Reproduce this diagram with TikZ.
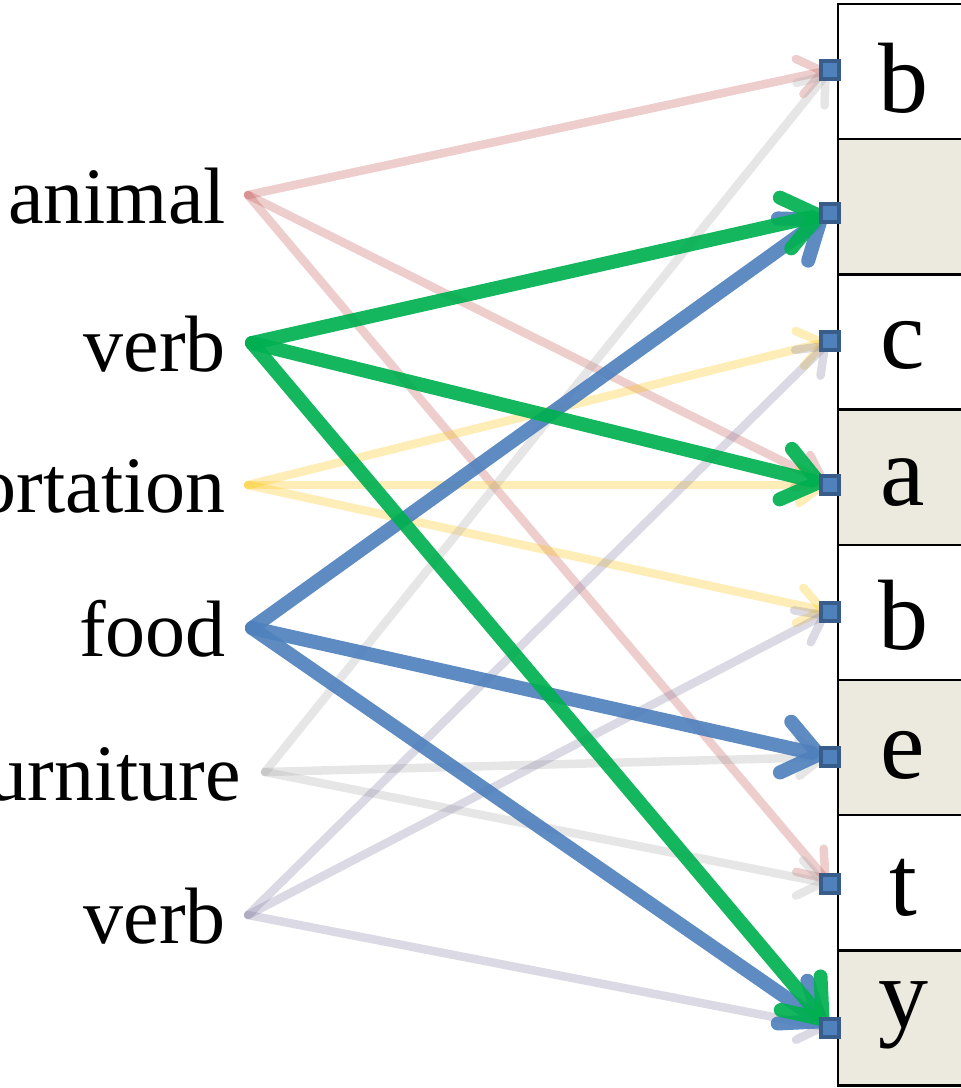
\documentclass[tikz,border=0pt]{standalone}
\usepackage{fontspec}
\setmainfont{Liberation Serif}
\usetikzlibrary{arrows.meta}
\definecolor{cellbeige}{HTML}{ECEADF}
\definecolor{portblue}{HTML}{4F81BD}
\definecolor{portedge}{HTML}{385D8A}
\definecolor{hotgreen}{HTML}{00B050}
\definecolor{hotblue}{HTML}{4F81BD}
\definecolor{softred}{HTML}{C0504D}
\definecolor{softyellow}{HTML}{FFC000}
\definecolor{softgray}{HTML}{A6A6A6}
\definecolor{softlilac}{HTML}{7E7A9E}
\tikzset{
  word/.style={anchor=base east, inner sep=0pt, font=\fontsize{80}{90}\selectfont},
  cell/.style={draw=black, line width=2.5pt},
  letter/.style={font=\fontsize{100}{110}\selectfont, inner sep=0pt},
  port/.style={draw=portedge, fill=portblue, line width=3.5pt, minimum size=18pt, inner sep=0pt},
  faint/.style={line width=8.5pt, draw opacity=0.28, line cap=round,
    -{Straight Barb[length=24pt,width=36pt,line cap=round]}},
  strong/.style={line width=14pt, line cap=round, draw opacity=0.92,
    -{Straight Barb[length=34pt,width=52pt,line cap=round]}},
}
\begin{document}
\begin{tikzpicture}[x=1pt,y=-1pt]
\useasboundingbox (0,0) rectangle (961,1088);
\clip (0,0) rectangle (961,1088);

% column of cells on the right
\foreach \i/\fillc in {0/white,1/cellbeige,2/white,3/cellbeige,4/white,5/cellbeige,6/white,7/cellbeige}{
  \path[cell, fill=\fillc] (838,{4+135.2*\i}) rectangle (990,{4+135.2*(\i+1)});
}
\node[letter] (lb1) at (903,78) {b};
\node[letter] (lc) at (903,345) {c};
\node[letter] (la) at (903,483) {a};
\node[letter] (lb2) at (903,615) {b};
\node[letter] (le) at (903,755) {e};
\node[letter] (lt) at (903,888) {t};
\node[letter] (ly) at (903,1015) {y};

% word labels
\node[word] (wanimal) at (226,223) {animal};
\node[word] (wverb) at (226,371) {verb};
\node[word] (wtrans) at (226,512) {transportation};
\node[word] (wfood) at (226,656) {food};
\node[word] (wfurn) at (241,800) {furniture};
\node[word] (wverbb) at (226,943) {verb};

% edge start points
\coordinate (sanimal) at (248,195);
\coordinate (sverb) at (252,343);
\coordinate (strans) at (248,485);
\coordinate (sfood) at (252,628);
\coordinate (sfurn) at (265,772);
\coordinate (sverbb) at (248,915);

% ports on the cell column
\path (830,70) coordinate (p1) (830,213) coordinate (p2) (830,341) coordinate (p3)
      (830,485) coordinate (p4) (830,612) coordinate (p5) (830,757) coordinate (p6)
      (830,884) coordinate (p7) (830,1028) coordinate (p8);

% faint links
\draw[faint, draw=softred] (sanimal) -- (p1);
\draw[faint, draw=softred] (sanimal) -- (p4);
\draw[faint, draw=softred] (sanimal) -- (p7);
\draw[faint, draw=softyellow] (strans) -- (p3);
\draw[faint, draw=softyellow] (strans) -- (p4);
\draw[faint, draw=softyellow] (strans) -- (p5);
\draw[faint, draw=softgray] (sfurn) -- (p1);
\draw[faint, draw=softgray] (sfurn) -- (p6);
\draw[faint, draw=softgray] (sfurn) -- (p7);
\draw[faint, draw=softlilac] (sverbb) -- (p3);
\draw[faint, draw=softlilac] (sverbb) -- (p5);
\draw[faint, draw=softlilac] (sverbb) -- (p8);

% highlighted links
\draw[strong, draw=hotblue] (sfood) -- (p2);
\draw[strong, draw=hotblue] (sfood) -- (p6);
\draw[strong, draw=hotblue] (sfood) -- (p8);
\draw[strong, draw=hotgreen] (sverb) -- (p2);
\draw[strong, draw=hotgreen] (sverb) -- (p4);
\draw[strong, draw=hotgreen] (sverb) -- (p8);

% port markers
\foreach \k in {1,...,8}{ \node[port] (q\k) at (p\k) {}; }
\end{tikzpicture}
\end{document}
